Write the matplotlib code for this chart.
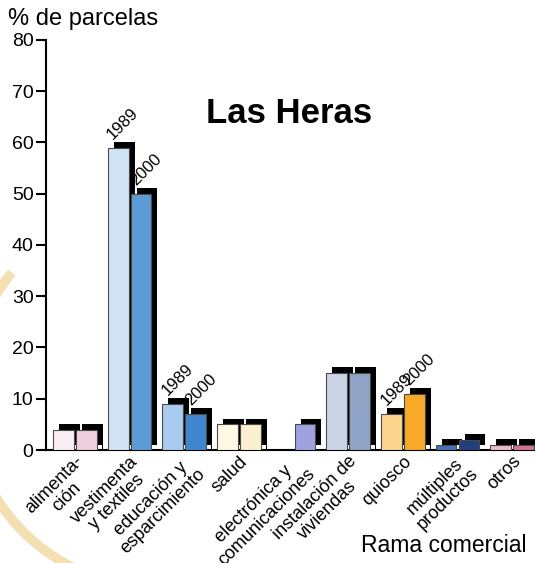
import numpy as np
import matplotlib
matplotlib.use('Agg')
import matplotlib.pyplot as plt
from matplotlib.patches import Arc
from matplotlib.transforms import IdentityTransform

plt.rcParams['font.family'] = ['Liberation Sans', 'DejaVu Sans']

# data
categories = ['alimenta-\nción', 'vestimenta\ny textiles', 'educación y\nesparcimiento',
              'salud', 'electrónica y\ncomunicaciones', 'instalación de\nviviendas',
              'quiosco', 'múltiples\nproductos', 'otros']
v1989 = [4, 59, 9, 5, 0, 15, 7, 1, 1]
v2000 = [4, 50, 7, 5, 5, 15, 11, 2, 1]
colors_1989 = ['#f8eef3', '#cfe3f5', '#a8cdf0', '#fdf9e3', '#ffffff',
               '#c9d3e3', '#fdd48e', '#4472b8', '#ecbccb']
colors_2000 = ['#f0cfdd', '#5d9bd6', '#3f86cf', '#fcefcf', '#9ea3df',
               '#8ea3c5', '#f7a928', '#22407f', '#d4738f']
years = ['1989', '2000']
labeled_groups = [1, 2, 6]  # groups that carry the year labels
yticks = [0, 10, 20, 30, 40, 50, 60, 70, 80]

fig = plt.figure(figsize=(5.35, 5.63), dpi=100)

# faint watermark arc behind the chart
arc = Arc((159, 167), 384, 384, theta1=140, theta2=255, transform=IdentityTransform(),
          color='#efd597', lw=7, alpha=0.75, zorder=0)
fig.add_artist(arc)

ax = fig.add_axes([0.086, 0.2007, 0.914, 0.7283])
ax.set_facecolor('none')

x = np.arange(len(categories))
w = 0.38
off = 0.21
dx = 0.11   # shadow shift right
dy = 1.1    # shadow shift up

for vals, cols, sign in ((v1989, colors_1989, -1), (v2000, colors_2000, 1)):
    pos = x + sign * off
    for p, v, c in zip(pos, vals, cols):
        if v <= 0:
            continue
        # black "3D" shadow
        ax.bar(p + dx, v + dy, width=w, color='black', zorder=1)
        # little white square at its bottom right corner
        ax.bar(p + w / 2 + dx / 2, dy * 0.8, width=dx * 0.75, color='white', zorder=1.5)
        ax.bar(p, v, width=w, color=c, edgecolor='#4a4a4a', lw=0.8, zorder=3)

for g in labeled_groups:
    for sign, vals, lab in ((-1, v1989, years[0]), (1, v2000, years[1])):
        ax.text(x[g] + sign * off - w / 2 + 0.1, vals[g] + 1.5, lab, rotation=45,
                rotation_mode='anchor', ha='left', va='baseline', fontsize=12)

ax.set_xlim(-0.53, 8.42)
ax.set_ylim(0, 80)
ax.set_yticks(yticks)
ax.set_xticks(x)
ax.set_xticklabels(categories, rotation=45, ha='right', va='top', rotation_mode='anchor',
                   multialignment='center', linespacing=1.05, fontsize=13)
ax.tick_params(axis='x', length=0, pad=2)
ax.tick_params(axis='y', length=7, width=1.5, labelsize=14, pad=2)
for s in ['top', 'right']:
    ax.spines[s].set_visible(False)
for s in ['left', 'bottom']:
    ax.spines[s].set_linewidth(1.5)

fig.text(8 / 535, 0.9556, '% de parcelas', fontsize=17, ha='left', va='baseline')
fig.text(0.985, 0.0195, 'Rama comercial', fontsize=16.5, ha='right', va='baseline')
fig.text(0.541, 0.7815, 'Las Heras', fontsize=25, fontweight='bold', ha='center', va='baseline')

fig.savefig('out.png', dpi=100)
